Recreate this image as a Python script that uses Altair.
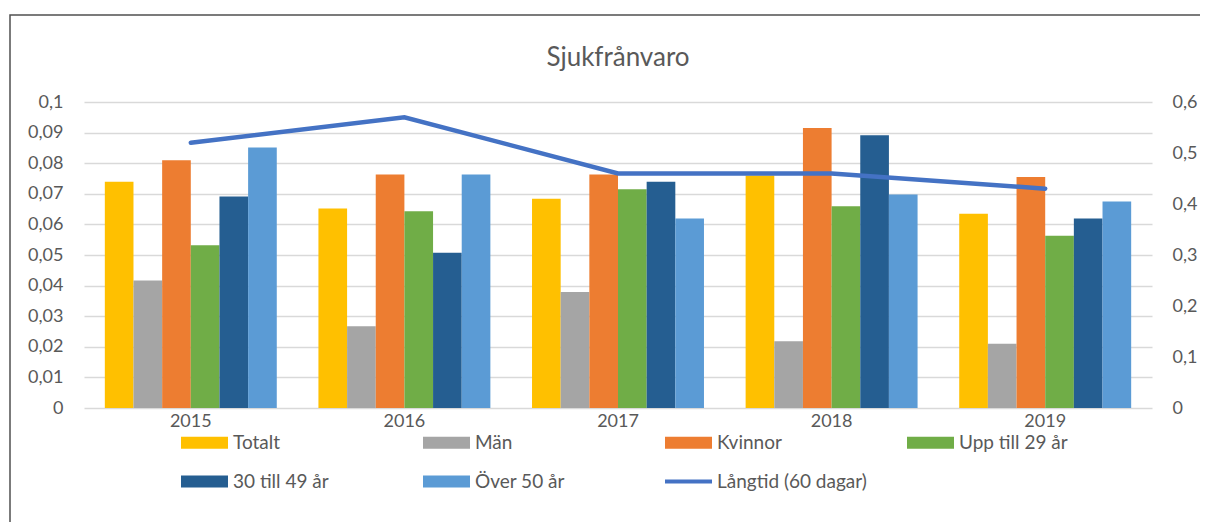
import altair as alt
import pandas as pd

years = ["2015", "2016", "2017", "2018", "2019"]
series = ["Totalt", "Män", "Kvinnor", "Upp till 29 år", "30 till 49 år", "Över 50 år"]
totalt = [0.0739, 0.0652, 0.0684, 0.0760, 0.0635]
man = [0.0417, 0.0267, 0.0379, 0.0218, 0.0210]
kvinnor = [0.0810, 0.0763, 0.0763, 0.0915, 0.0755]
upp29 = [0.0532, 0.0643, 0.0715, 0.0659, 0.0563]
m30_49 = [0.0691, 0.0507, 0.0739, 0.0891, 0.0619]
over50 = [0.0851, 0.0763, 0.0619, 0.0698, 0.0675]
langtid_name = "Långtid (60 dagar)"
langtid = [0.52, 0.57, 0.46, 0.46, 0.43]

left_ticks = [i / 100 for i in range(11)]
right_ticks = [i / 10 for i in range(7)]

bar_colors = ["#FFC000", "#A5A5A5", "#ED7D31", "#70AD47", "#255E91", "#5B9BD5"]
line_color = "#4472C4"

values_by_series = [totalt, man, kvinnor, upp29, m30_49, over50]
rows = []
for s, vals in zip(series, values_by_series):
    for y, v in zip(years, vals):
        rows.append({"year": y, "serie": s, "value": v})
bars_df = pd.DataFrame(rows)
line_df = pd.DataFrame({"year": years, "serie": [langtid_name] * len(years), "value": langtid})
legend_df = pd.DataFrame({"serie": series + [langtid_name]})

domain_all = series + [langtid_name]
bar_path = "M-1,-0.255H1V0.255H-1Z"
line_path = "M-1,-0.09H1V0.09H-1Z"
color_scale = alt.Scale(domain=domain_all, range=bar_colors + [line_color])
shape_scale = alt.Scale(domain=domain_all, range=[bar_path] * 6 + [line_path])

FONT = "Lato"
TXT = "#595959"

legend = alt.Legend(
    orient="none", legendX=97, legendY=317, columns=4, direction="horizontal",
    gridAlign="all", columnPadding=40, rowPadding=5, symbolSize=2209,
    symbolStrokeWidth=0, symbolOpacity=1, labelFont=FONT, labelFontSize=19,
    labelColor=TXT, labelOffset=5, padding=0, symbolOffset=0, labelLimit=400,
)

x_enc = alt.X(
    "year:N", sort=years, title=None,
    scale=alt.Scale(paddingInner=0.195, paddingOuter=0.0975),
    axis=alt.Axis(labelAngle=0, ticks=False, domain=False, labelPadding=4,
                  labelFont=FONT, labelFontSize=18, labelColor=TXT),
)

border = alt.Chart(pd.DataFrame({"k": [0]})).mark_rect(
    fill="transparent", stroke="#505050", strokeWidth=1.5
).encode(
    x=alt.value(-74), x2=alt.value(1140), y=alt.value(-87), y2=alt.value(440)
)

bars = alt.Chart(bars_df).mark_bar().encode(
    x=x_enc,
    xOffset=alt.XOffset("serie:N", sort=series, scale=alt.Scale(domain=series, paddingInner=0, paddingOuter=0)),
    y=alt.Y(
        "value:Q", title=None,
        scale=alt.Scale(domain=[0, 0.1], nice=False),
        axis=alt.Axis(values=left_ticks, labelExpr="replace(format(datum.value,'.2~f'),'.',',')",
                      ticks=False, domain=False, grid=True, gridColor="#D9D9D9", gridWidth=1.5,
                      labelPadding=21, labelFont=FONT, labelFontSize=18, labelColor=TXT),
    ),
    color=alt.Color("serie:N", scale=color_scale, title=None, legend=legend),
)

line = alt.Chart(line_df).mark_line(strokeWidth=4.5, strokeCap="round").encode(
    x=x_enc,
    y=alt.Y(
        "value:Q", title=None,
        scale=alt.Scale(domain=[0, 0.6], nice=False),
        axis=alt.Axis(orient="right", values=right_ticks,
                      labelExpr="replace(format(datum.value,'.1~f'),'.',',')",
                      ticks=False, domain=False, grid=False, labelPadding=20,
                      labelFont=FONT, labelFontSize=18, labelColor=TXT),
    ),
    color=alt.Color("serie:N", scale=color_scale, title=None, legend=legend),
)

points = alt.Chart(legend_df).mark_point(filled=True, opacity=0).encode(
    color=alt.Color("serie:N", scale=color_scale, title=None, legend=legend),
    shape=alt.Shape("serie:N", scale=shape_scale, title=None, legend=legend),
)

chart = alt.layer(border, bars, line, points).resolve_scale(y="independent").properties(
    width=1068, height=306,
    title=alt.TitleParams("Sjukfrånvaro", font=FONT, fontSize=26, fontWeight="normal",
                          color=TXT, anchor="middle", offset=0, baseline="alphabetic", dy=78),
    autosize=alt.AutoSizeParams(type="none"),
    padding={"left": 76, "top": 94, "right": 48, "bottom": 114},
).configure_view(strokeWidth=0)

chart.save("out.html", embed_options={"renderer": "svg", "actions": False})
